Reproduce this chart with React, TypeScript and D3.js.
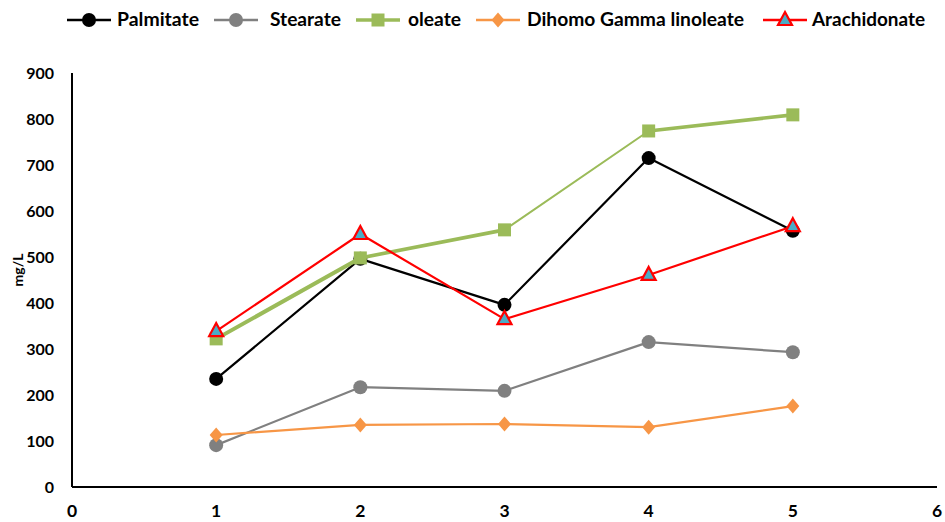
import React from "react";
import * as d3 from "d3";

const xValues = [1, 2, 3, 4, 5];
const palmitate = [235, 496, 396, 715, 557];
const stearate = [91, 217, 209, 315, 293];
const oleate = [322, 498, 559, 774, 809];
const dgla = [113, 135, 137, 130, 176];
const arachidonate = [339, 550, 365, 461, 567];
const seriesNames = ["Palmitate", "Stearate", "oleate", "Dihomo Gamma linoleate", "Arachidonate"];
const yTicks = [0, 100, 200, 300, 400, 500, 600, 700, 800, 900];
const xTicks = [0, 1, 2, 3, 4, 5, 6];

const W = 945, H = 522;
const FONT = "Lato, 'Open Sans', sans-serif";

type Shape = "circle" | "square" | "diamond" | "triangle";
const styles: { color: string; shape: Shape; width: number; fill: string }[] = [
  { color: "#000000", shape: "circle", width: 2.2, fill: "#000000" },
  { color: "#808080", shape: "circle", width: 2.2, fill: "#808080" },
  { color: "#9bbb59", shape: "square", width: 2.5, fill: "#9bbb59" },
  { color: "#f79646", shape: "diamond", width: 2.2, fill: "#f79646" },
  { color: "#ff0000", shape: "triangle", width: 2.2, fill: "#4bacc6" },
];
const oleateSegmentWidths = [4, 3.6, 2, 3.6];

function Marker({ x, y, s }: { x: number; y: number; s: (typeof styles)[number] }) {
  if (s.shape === "circle") return <circle cx={x} cy={y} r={7} fill={s.fill} />;
  if (s.shape === "square") return <rect x={x - 6.5} y={y - 6.5} width={13} height={13} fill={s.fill} />;
  if (s.shape === "diamond")
    return <path d={`M${x},${y - 7.5}L${x + 6.5},${y}L${x},${y + 7.5}L${x - 6.5},${y}Z`} fill={s.fill} />;
  return (
    <path
      d={`M${x},${y - 8}L${x + 7},${y + 5}L${x - 7},${y + 5}Z`}
      fill={s.fill}
      stroke={s.color}
      strokeWidth={2.2}
      strokeLinejoin="miter"
    />
  );
}

export default function App() {
  const x = d3.scaleLinear().domain([0, 6]).range([72, 937]);
  const y = d3.scaleLinear().domain([0, 900]).range([487, 73]);
  const data = [palmitate, stearate, oleate, dgla, arachidonate];
  const line = d3
    .line<number>()
    .x((_, i) => x(xValues[i]))
    .y((d) => y(d));

  const legendX = [89, 236, 378, 498, 785];
  const legendTextX = [117, 270, 408, 527, 812];
  const legendTextW = [82, 71, 53, 217, 113];

  return (
    <svg width={W} height={H} style={{ position: "absolute", left: 0, top: 0 }}>
      <rect width={W} height={H} fill="#fff" />
      {/* axes */}
      <line x1={x(0)} x2={x(0)} y1={y(900)} y2={y(0)} stroke="#000" strokeWidth={2} />
      <line x1={x(0)} x2={x(6)} y1={y(0)} y2={y(0)} stroke="#000" strokeWidth={2} />
      {yTicks.map((t) => (
        <text key={t} x={54} y={y(t)} dy="0.36em" textAnchor="end" fontFamily={FONT} fontWeight="bold" fontSize={16} fill="#000">
          {t}
        </text>
      ))}
      {xTicks.map((t) => (
        <text key={t} x={x(t)} y={517} textAnchor="middle" fontFamily={FONT} fontWeight="bold" fontSize={17.5} fill="#000">
          {t}
        </text>
      ))}
      <text
        transform={`translate(23,270) rotate(-90)`}
        textAnchor="middle"
        fontFamily={FONT}
        fontWeight="bold"
        fontSize={14}
        fill="#000"
      >
        mg/L
      </text>
      {/* series */}
      {data.map((vals, si) => {
        const s = styles[si];
        return (
          <g key={si}>
            {si === 2 ? (
              vals.slice(0, -1).map((v, i) => (
                <line
                  key={i}
                  x1={x(xValues[i])}
                  y1={y(v)}
                  x2={x(xValues[i + 1])}
                  y2={y(vals[i + 1])}
                  stroke={s.color}
                  strokeWidth={oleateSegmentWidths[i]}
                  strokeLinecap="round"
                />
              ))
            ) : (
              <path d={line(vals) || ""} fill="none" stroke={s.color} strokeWidth={s.width} strokeLinejoin="round" />
            )}
            {vals.map((v, i) => (
              <Marker key={i} x={x(xValues[i])} y={y(v)} s={s} />
            ))}
          </g>
        );
      })}
      {/* legend */}
      {seriesNames.map((name, i) => {
        const s = styles[i];
        const cx = legendX[i];
        return (
          <g key={name}>
            <line x1={cx - 22} x2={cx + 22} y1={20} y2={20} stroke={s.color} strokeWidth={i === 2 ? 3.5 : 2.5} />
            <Marker x={cx} y={20} s={s} />
            <text
              x={legendTextX[i]}
              y={20}
              dy="0.36em"
              fontFamily={FONT}
              fontWeight="bold"
              fontSize={18}
              fill="#000"
              textLength={legendTextW[i]}
              lengthAdjust="spacingAndGlyphs"
            >
              {name}
            </text>
          </g>
        );
      })}
    </svg>
  );
}
